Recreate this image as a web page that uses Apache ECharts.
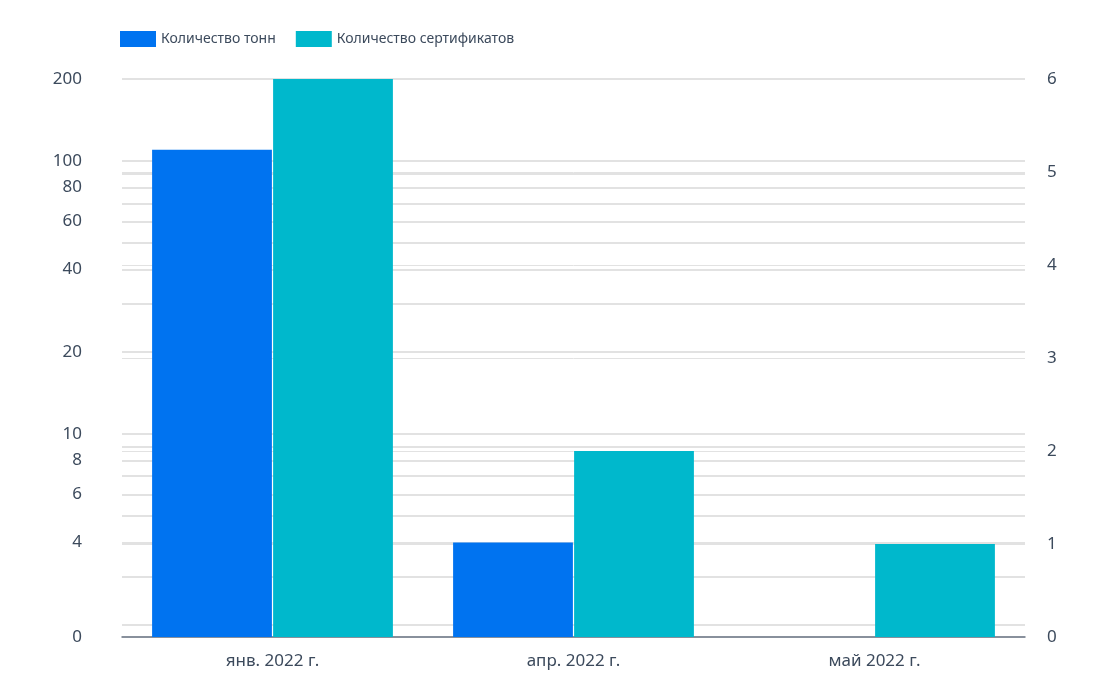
<!DOCTYPE html>
<html><head><meta charset="utf-8">
<script src="https://cdn.jsdelivr.net/npm/echarts@6/dist/echarts.min.js"></script>
<style>html,body{margin:0;background:#fff}#c{width:1110px;height:683px}</style>
</head><body><div id="c"></div>
<script>
const categories = ["янв. 2022 г.", "апр. 2022 г.", "май 2022 г."];
const tonnes = [110, 4, 0];
const certificates = [6, 2, 1];
const leftLabels = [0, 4, 6, 8, 10, 20, 40, 60, 80, 100, 200];
const leftMinor = [2, 3, 5, 7, 9, 30, 50, 70, 90];

// left axis: log-like scale where 0 sits at the base
const BASE = 1.8;
const t = v => v <= 0 ? 0 : Math.log10(v / BASE);
const inv = x => x <= 0 ? 0 : Math.round(BASE * Math.pow(10, x));
const TMAX = t(200);

const chart = echarts.init(document.getElementById("c"));
const font = "Noto Sans";
chart.setOption({
  textStyle: { fontFamily: font },
  legend: {
    left: 115, top: 26, itemWidth: 36, itemHeight: 16, itemGap: 20, icon: "rect",
    textStyle: { color: "#3c4a5c", fontSize: 14, fontFamily: font }
  },
  grid: { left: 122, right: 85, top: 79, bottom: 46 },
  xAxis: {
    type: "category", data: categories,
    axisTick: { show: false },
    axisLine: { lineStyle: { color: "#6b7685", width: 1.5 } },
    axisLabel: { color: "#3c4a5c", fontSize: 17, margin: 16 }
  },
  yAxis: [{
    type: "value", min: 0, max: TMAX,
    axisLabel: { color: "#3c4a5c", fontSize: 17, margin: 40,
      customValues: leftLabels.map(t), formatter: v => String(inv(v)) },
    axisTick: { show: false, customValues: leftLabels.concat(leftMinor).map(t) },
    splitLine: { lineStyle: { color: "#d9d9d9", width: 1.5 } },
    axisLine: { show: false }
  }, {
    type: "value", min: 0, max: 6, interval: 1,
    axisLabel: { color: "#3c4a5c", fontSize: 17, margin: 22 },
    splitLine: { lineStyle: { color: "#e2e2e2" } },
    axisLine: { show: false }, axisTick: { show: false }
  }],
  series: [{
    name: "Количество тонн", type: "bar", yAxisIndex: 0,
    data: tonnes.map(t), itemStyle: { color: "#0073f0" },
    barGap: "1%", barCategoryGap: "20%"
  }, {
    name: "Количество сертификатов", type: "bar", yAxisIndex: 1,
    data: certificates, itemStyle: { color: "#00b8cc" }
  }]
});
</script></body></html>
